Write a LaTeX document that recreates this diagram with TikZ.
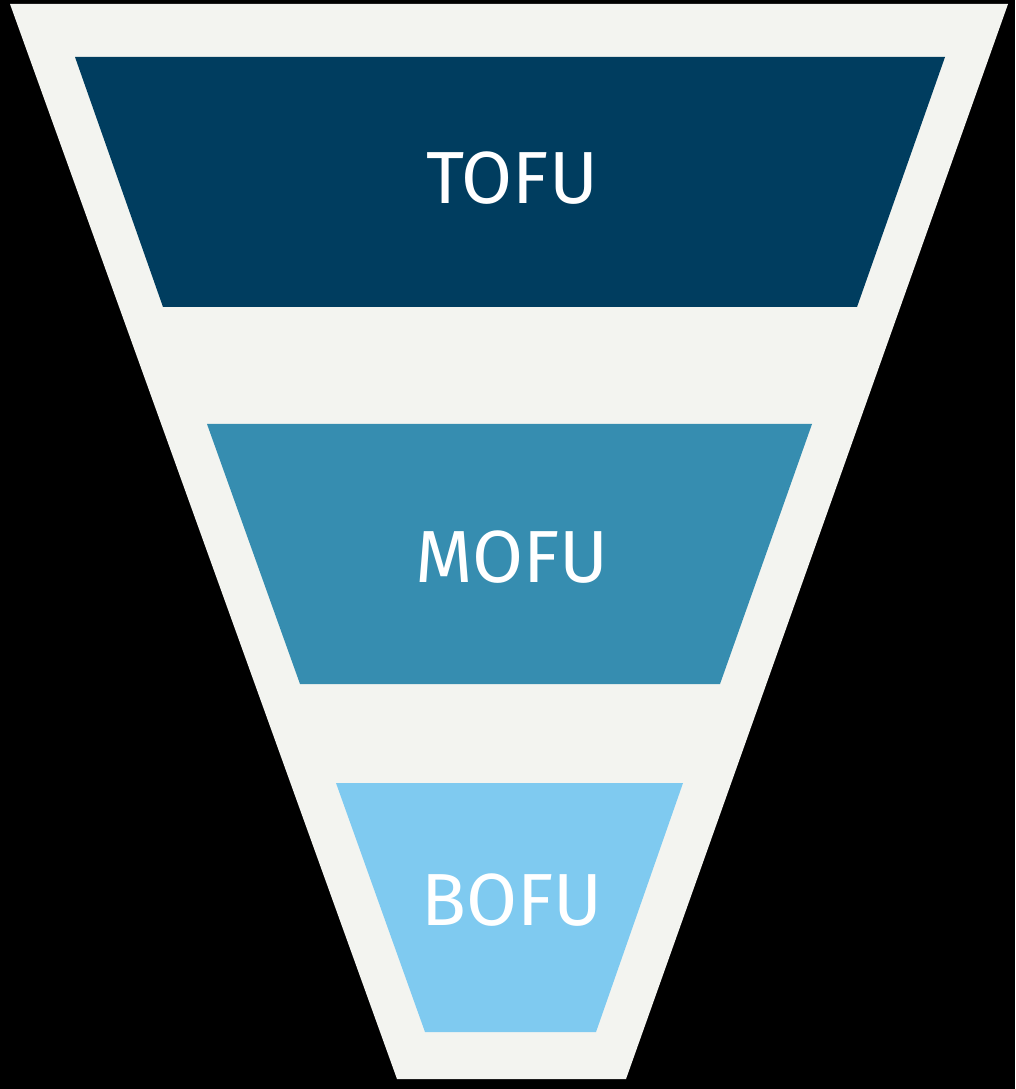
\documentclass[tikz,border=0pt]{standalone}
\usepackage{fontspec}
\setmainfont{Fira Sans}
\definecolor{funnelbg}{HTML}{F3F4F0}
\definecolor{tofublue}{HTML}{003D5F}
\definecolor{mofublue}{HTML}{368DB0}
\definecolor{bofublue}{HTML}{7FCAF0}
\tikzset{
    stage/.style={text=white, font=\fontsize{21}{25}\selectfont, inner sep=0pt},
}

\begin{document}
\begin{tikzpicture}[x=0.01cm, y=-0.01cm]
    \fill[black] (0, 0) rectangle (1015, 1089);
    \useasboundingbox (0, 0) rectangle (1015, 1089);
    
    % outer funnel
    \fill[funnelbg] (10, 4) -- (1008, 4) -- (626, 1079) -- (397, 1079) -- cycle;
    
    % stages
    \fill[tofublue] (75, 57) -- (945, 57) -- (857, 307) -- (163, 307) -- cycle;
    \fill[mofublue] (207, 424) -- (812, 424) -- (720, 684) -- (300, 684) -- cycle;
    \fill[bofublue] (336, 783) -- (683, 783) -- (596, 1032) -- (425, 1032) -- cycle;
    
    \node[stage] (tofu) at (512, 178) {TOFU};
    \node[stage] (mofu) at (512, 557) {MOFU};
    \node[stage] (bofu) at (512, 900) {BOFU};
\end{tikzpicture}
\end{document}
